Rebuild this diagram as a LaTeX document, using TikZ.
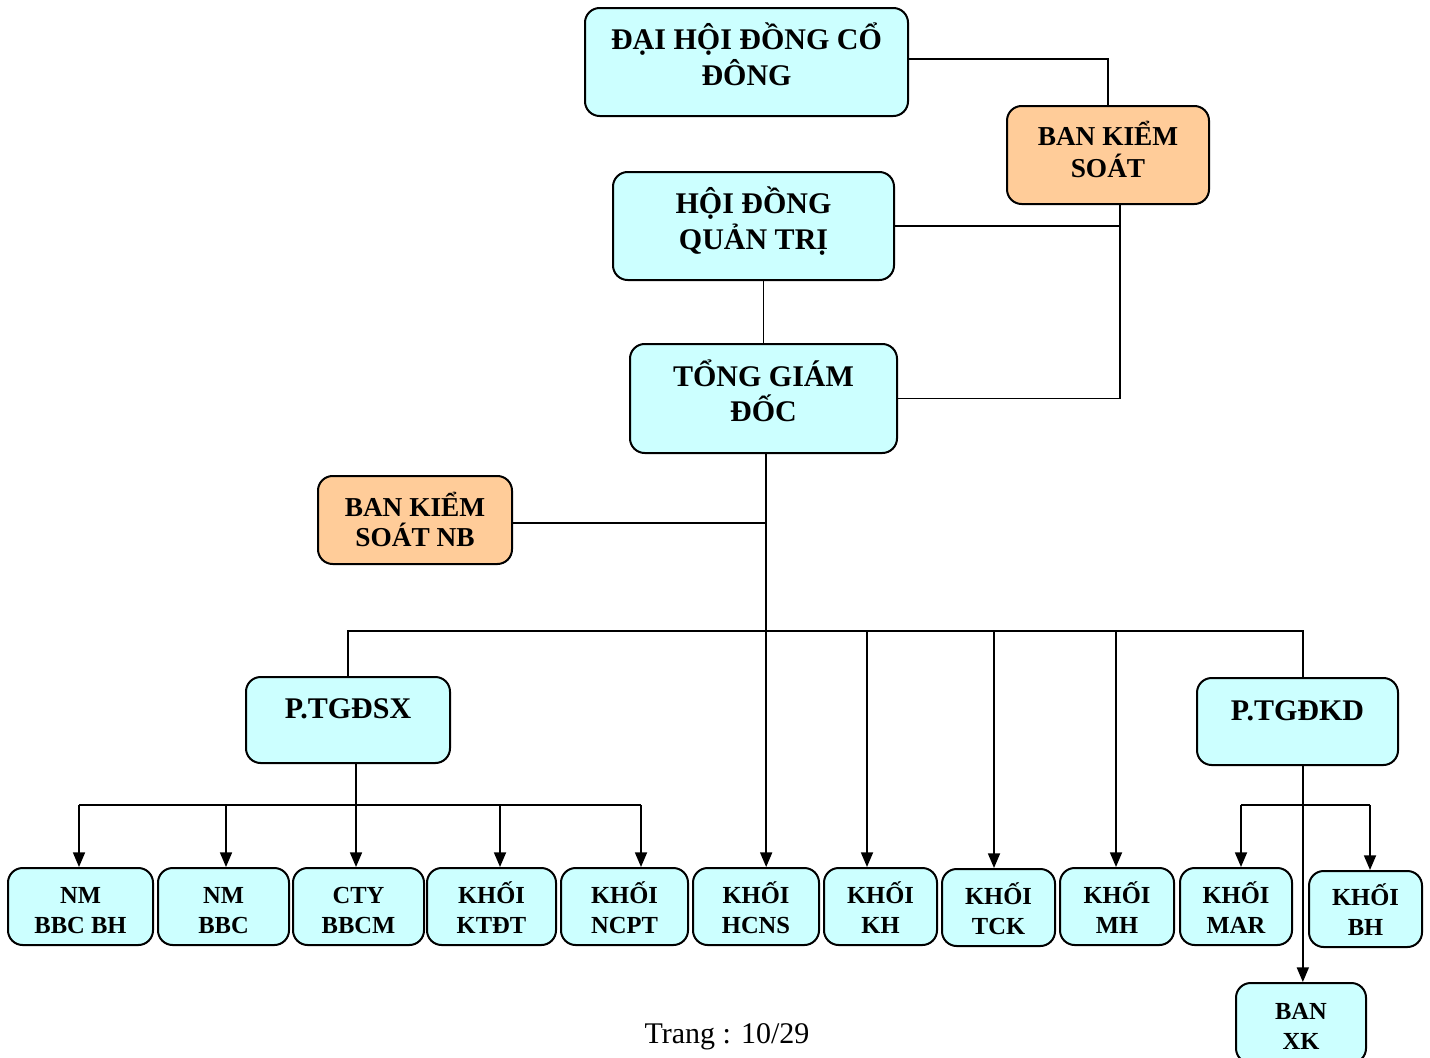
\documentclass[tikz,border=0pt]{standalone}
\usepackage{fontspec}
\setmainfont{Liberation Serif}
\usetikzlibrary{arrows.meta}
\definecolor{cyanbox}{HTML}{CCFFFF}
\definecolor{orangebox}{HTML}{FFCC99}
\tikzset{
  box/.style={draw=black, line width=1.5pt, rounded corners=11pt, fill=cyanbox,
    align=center, inner sep=0pt},
  obox/.style={box, fill=orangebox},
  sz/.style 2 args={minimum width=#1*0.75pt, minimum height=#2*0.75pt},
  big/.style={font=\fontsize{22.5}{26.3}\selectfont\bfseries, text height=36pt, text depth=1.5pt},
  mid/.style={font=\fontsize{20.5}{23.3}\selectfont\bfseries},
  small/.style={font=\fontsize{18.4}{22.5}\selectfont\bfseries, text height=40pt, text depth=0pt},
  topalign/.style={text height=15pt, text depth=17pt},
  conn/.style={line width=1.3pt},
  arr/.style={conn, -{Triangle[length=11pt,width=9pt]}}
}
\begin{document}
\begin{tikzpicture}[x=0.75pt,y=-0.75pt]
\useasboundingbox (0,0) rectangle (1430,1057);

% upper boxes
\node[box, big, sz={323}{108}] (dhd) at (746.5,62) {ĐẠI HỘI ĐỒNG CỔ\\ĐÔNG};
\node[obox, mid, text height=34pt, text depth=1pt, sz={202}{98}] (bks) at (1108,155) {BAN KIỂM\\SOÁT};
\node[box, big, sz={281}{108}] (hdqt) at (753.5,226) {HỘI ĐỒNG\\QUẢN TRỊ};
\node[box, big, sz={267}{109}] (tgd) at (763.5,398.5) {TỔNG GIÁM\\ĐỐC};
\node[obox, mid, font=\fontsize{20.5}{22.5}\selectfont\bfseries, text height=40pt, text depth=1pt, sz={194}{88}] (bksnb) at (415,520) {BAN KIỂM\\SOÁT NB};
\node[box, big, topalign, sz={204}{86}] (ptsx) at (348,720) {P.TGĐSX};
\node[box, big, topalign, sz={201}{87}] (ptkd) at (1297.5,721.5) {P.TGĐKD};

% bottom boxes
\node[box, small, sz={145}{77}] (b1) at (80.5,906.5) {NM\\BBC BH};
\node[box, small, sz={131}{77}] (b2) at (223.5,906.5) {NM\\BBC};
\node[box, small, sz={131}{77}] (b3) at (358.5,906.5) {CTY\\BBCM};
\node[box, small, sz={129}{77}] (b4) at (491.5,906.5) {KHỐI\\KTĐT};
\node[box, small, sz={127}{77}] (b5) at (624.5,906.5) {KHỐI\\NCPT};
\node[box, small, sz={126}{77}] (b6) at (756,906.5) {KHỐI\\HCNS};
\node[box, small, sz={113}{77}] (b7) at (880.5,906.5) {KHỐI\\KH};
\node[box, small, sz={113}{77}] (b8) at (998.5,907.5) {KHỐI\\TCK};
\node[box, small, sz={114}{77}] (b9) at (1117,906.5) {KHỐI\\MH};
\node[box, small, sz={112}{77}] (b10) at (1236,906.5) {KHỐI\\MAR};
\node[box, small, sz={113}{76}] (b11) at (1365.5,909) {KHỐI\\BH};
\node[box, small, sz={130}{80}] (bxk) at (1301,1023) {BAN\\XK};

\node[font=\fontsize{22.5}{27}\selectfont] (pg) at (727,1037) {Trang : 10/29};

% top connectors
\draw[conn] ([yshift=2pt]dhd.east) -| (bks.north);
\coordinate (bksb) at ([xshift=9pt]bks.south);
\draw[conn] (bksb) |- (tgd.east);
\draw[conn] (hdqt.east) -- (hdqt.east -| bksb);
\draw[conn] (tgd.north |- hdqt.south) -- (tgd.north);

% main trunk
\coordinate (tr) at ([xshift=2pt]tgd.south);
\draw[arr] (tr) -- (tr |- b6.north);
\draw[conn] ([yshift=-2pt]bksnb.east) -- ([yshift=-2pt]bksnb.east -| tr);

% bus
\coordinate (kdtop) at ([xshift=4pt]ptkd.north);
\coordinate (bus) at (0,631);
\draw[conn] (ptsx.north) |- (kdtop |- bus) -- (kdtop);
\coordinate (a7) at (867,631);
\coordinate (a8) at (994,631);
\coordinate (a9) at (1116,631);
\draw[arr] (a7) -- (a7 |- b7.north);
\draw[arr] (a8) -- (a8 |- b8.north);
\draw[arr] (a9) -- (a9 |- b9.north);

% P.TGDSX branch
\coordinate (sxd) at ([xshift=6pt]ptsx.south);
\draw[arr] (sxd) -- (sxd |- b3.north);
\coordinate (sb1) at (79,805);
\coordinate (sb2) at (226,805);
\coordinate (sb4) at (500,805);
\coordinate (sb5) at (641,805);
\draw[conn] (sb1) -- (sb5);
\draw[arr] (sb1) -- (sb1 |- b1.north);
\draw[arr] (sb2) -- (sb2 |- b2.north);
\draw[arr] (sb4) -- (sb4 |- b4.north);
\draw[arr] (sb5) -- (sb5 |- b5.north);

% P.TGDKD branch
\coordinate (kdd) at ([xshift=4pt]ptkd.south);
\draw[arr] (kdd) -- (kdd |- bxk.north);
\coordinate (kb1) at (1241,805);
\coordinate (kb2) at (1370,805);
\draw[conn] (kb1) -- (kb2);
\draw[arr] (kb1) -- (kb1 |- b10.north);
\draw[arr] (kb2) -- (kb2 |- b11.north);
\end{tikzpicture}
\end{document}
